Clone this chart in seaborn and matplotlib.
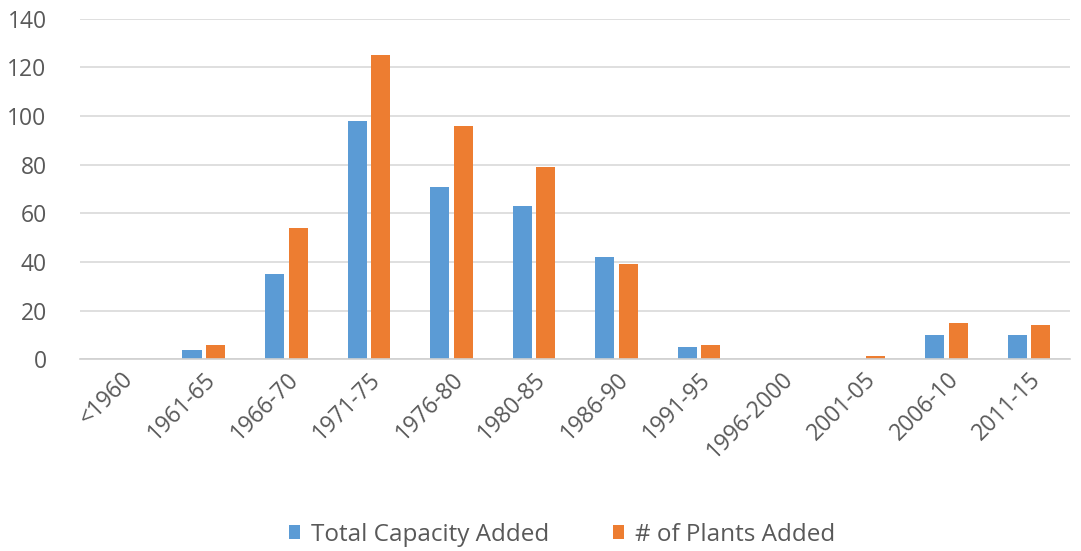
import matplotlib
matplotlib.use("Agg")
import matplotlib.pyplot as plt
import seaborn as sns
import pandas as pd

periods = ["<1960", "1961-65", "1966-70", "1971-75", "1976-80", "1980-85",
           "1986-90", "1991-95", "1996-2000", "2001-05", "2006-10", "2011-15"]
capacity_added = [0, 4, 35, 98, 71, 63, 42, 5, 0, 0, 10, 10]
plants_added = [0, 6, 54, 125, 96, 79, 39, 6, 0, 1.5, 15, 14]
series_names = ["Total Capacity Added", "# of Plants Added"]
colors = ["#5B9BD5", "#ED7D31"]

df = pd.DataFrame({
    "period": periods * 2,
    "value": capacity_added + plants_added,
    "series": [series_names[0]] * len(periods) + [series_names[1]] * len(periods),
})

sns.set_theme(style="white")
plt.rcParams["font.family"] = ["Open Sans", "DejaVu Sans"]

fig = plt.figure(figsize=(10.81, 5.51), dpi=100)
ax = fig.add_axes([0.074, 0.348, 0.916, 0.618])

sns.barplot(data=df, x="period", y="value", hue="series", order=periods,
            hue_order=series_names, palette=colors, width=0.57, gap=0.19,
            saturation=1, linewidth=0, ax=ax, legend=True)

ax.set_ylim(0, 140)
ax.set_yticks(range(0, 141, 20))
ax.set_xlim(-0.5, len(periods) - 0.5)
ax.yaxis.grid(True, color="#D9D9D9", linewidth=1.2)
ax.set_axisbelow(True)
for s in ["top", "right", "left"]:
    ax.spines[s].set_visible(False)
ax.spines["bottom"].set_color("#D0D0D0")
ax.spines["bottom"].set_linewidth(1.2)
ax.tick_params(axis="both", length=0, colors="#595959", labelsize=16.5)
ax.tick_params(axis="y", pad=24)
ax.tick_params(axis="x", pad=6)
plt.setp(ax.get_xticklabels(), rotation=45, ha="right", rotation_mode="anchor")
ax.set_xlabel("")
ax.set_ylabel("")

handles, labels = ax.get_legend_handles_labels()
ax.get_legend().remove()
fig.legend(handles, labels, loc="center", bbox_to_anchor=(0.52, 0.029), ncol=2,
           frameon=False, fontsize=17.5, labelcolor="#595959", handlelength=0.45,
           handleheight=0.5, columnspacing=2.6, handletextpad=0.45)

fig.savefig("out.png", dpi=100)
